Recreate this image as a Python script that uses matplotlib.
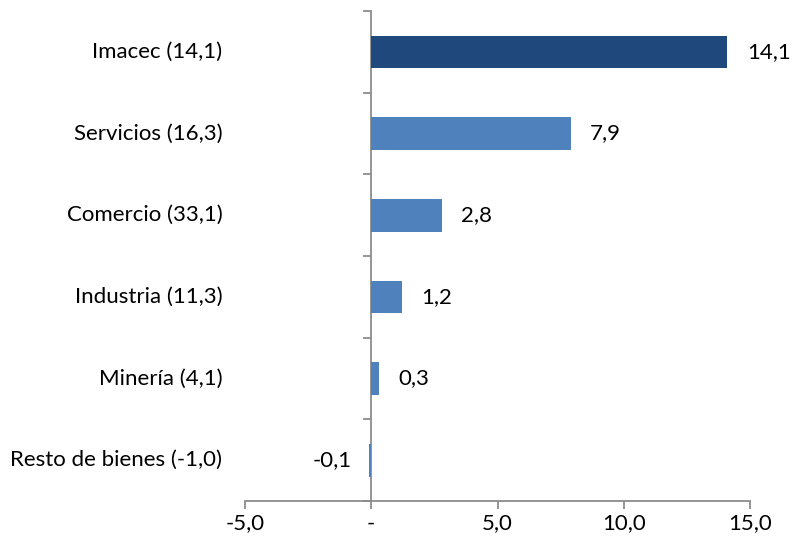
import numpy as np
import matplotlib.pyplot as plt

categories = ['Imacec (14,1)', 'Servicios (16,3)', 'Comercio (33,1)',
              'Industria (11,3)', 'Minería (4,1)', 'Resto de bienes (-1,0)']
values = [14.1, 7.9, 2.8, 1.2, 0.3, -0.1]
value_labels = ['14,1', '7,9', '2,8', '1,2', '0,3', '-0,1']
xticks = [-5, 0, 5, 10, 15]
xtick_labels = ['-5,0', '-', '5,0', '10,0', '15,0']

plt.rcParams['font.family'] = ['Lato', 'DejaVu Sans']
axis_col = '#8c8c8c'
fs = 16

fig = plt.figure(figsize=(7.93, 5.5), dpi=100)
ax = fig.add_axes([245 / 793, 1 - 501 / 550, 505 / 793, 490 / 550])

n = len(categories)
ypos = np.arange(n)
colors = ['#1f497d'] + ['#4f81bd'] * (n - 1)
ax.barh(ypos, values, height=0.4, color=colors, zorder=3)

ax.set_xlim(-5, 15)
ax.set_ylim(n - 0.5, -0.5)

for s in ['top', 'right']:
    ax.spines[s].set_visible(False)
ax.spines['left'].set_position(('data', 0))
ax.spines['left'].set_color(axis_col)
ax.spines['left'].set_linewidth(1.3)
ax.spines['bottom'].set_color(axis_col)
ax.spines['bottom'].set_linewidth(1.3)

ax.set_yticks(ypos)
ax.set_yticklabels([])
ax.tick_params(axis='y', which='major', length=0)
ax.set_yticks(np.arange(-0.5, n, 1), minor=True)
ax.tick_params(axis='y', which='minor', length=6, width=1.3, color=axis_col, direction='out')

ax.set_xticks(xticks)
ax.set_xticklabels(xtick_labels, fontsize=fs)
ax.tick_params(axis='x', length=6, width=1.3, color=axis_col, pad=3)

for y, lab in zip(ypos, categories):
    ax.text(-0.045, y, lab, transform=ax.get_yaxis_transform(), ha='right', va='center', fontsize=fs)

for y, v, lab in zip(ypos, values, value_labels):
    if v >= 0:
        ax.annotate(lab, (v, y), xytext=(14, 0), textcoords='offset points', ha='left', va='center', fontsize=fs)
    else:
        ax.annotate(lab, (v, y), xytext=(-12, 0), textcoords='offset points', ha='right', va='center', fontsize=fs)

fig.savefig('out.png', dpi=100)
